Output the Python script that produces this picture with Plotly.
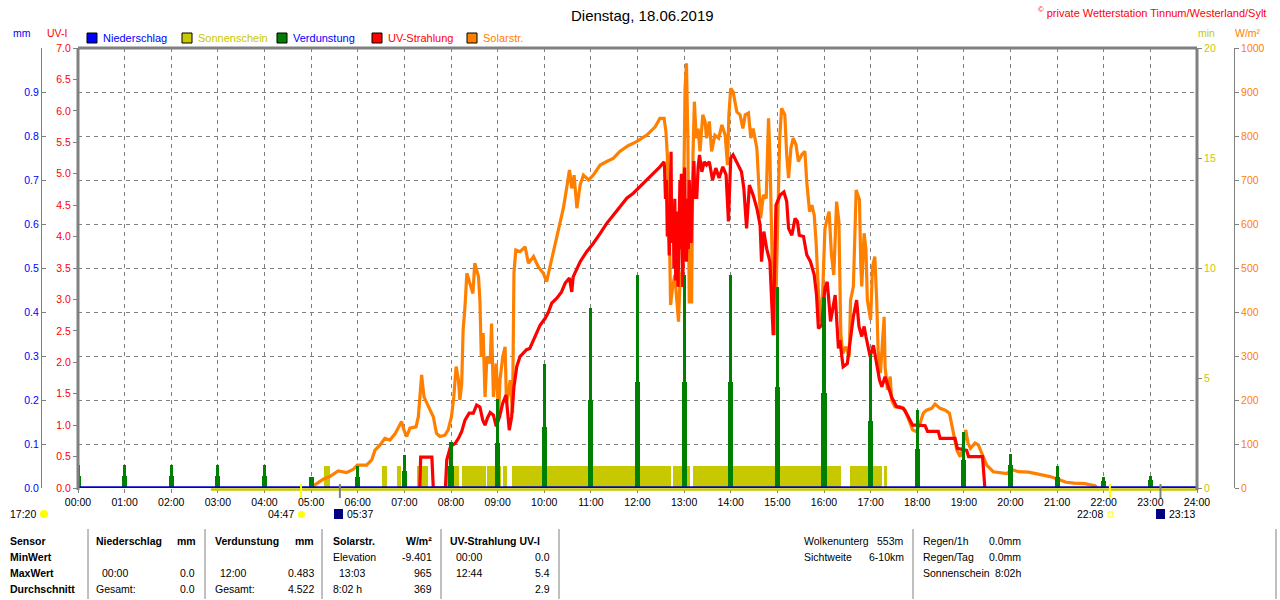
import plotly.graph_objects as go

# ---------------- data ----------------
hours = [0, 1, 2, 3, 4, 5, 6, 7, 8, 9, 10, 11, 12, 13, 14, 15, 16, 17, 18, 19, 20, 21, 22, 23, 24]
hour_labels = ["00:00", "01:00", "02:00", "03:00", "04:00", "05:00", "06:00", "07:00", "08:00",
               "09:00", "10:00", "11:00", "12:00", "13:00", "14:00", "15:00", "16:00", "17:00",
               "18:00", "19:00", "20:00", "21:00", "22:00", "23:00", "24:00"]

mm_ticks = [0.0, 0.1, 0.2, 0.3, 0.4, 0.5, 0.6, 0.7, 0.8, 0.9]
mm_labels = ["0.0", "0.1", "0.2", "0.3", "0.4", "0.5", "0.6", "0.7", "0.8", "0.9"]
min_ticks = [0, 5, 10, 15, 20]
solar_ticks = [0, 100, 200, 300, 400, 500, 600, 700, 800, 900, 1000]

# Verdunstung (mm) per hour: tall narrow part and lower wide part
verd_hours = [0, 1, 2, 3, 4, 5, 6, 7, 8, 9, 10, 11, 12, 13, 14, 15, 16, 17, 18, 19, 20, 21, 22, 23]
verd_hi = [0.052, 0.052, 0.052, 0.052, 0.052, 0.026, 0.051, 0.076, 0.104, 0.202, 0.281, 0.409,
           0.483, 0.484, 0.484, 0.457, 0.435, 0.306, 0.177, 0.128, 0.077, 0.051, 0.026, 0.027]
verd_lo = [0.027, 0.027, 0.027, 0.027, 0.027, 0.026, 0.026, 0.038, 0.050, 0.102, 0.139, 0.200,
           0.240, 0.240, 0.240, 0.230, 0.217, 0.153, 0.089, 0.064, 0.052, 0.026, 0.017, 0.018]

# Sonnenschein intervals (hours) with 1 min sunshine per minute
sun_start = [5.28, 6.52, 6.85, 7.26, 7.91, 8.06, 8.24, 8.78, 9.11, 9.31, 12.77, 13.18, 16.56, 17.29]
sun_end = [5.40, 6.63, 6.92, 7.51, 8.05, 8.18, 8.75, 9.08, 9.21, 12.72, 13.12, 16.36, 17.24, 17.35]
sun_minutes = [1, 1, 1, 1, 1, 1, 1, 1, 1, 1, 1, 1, 1, 1]
sun_zero_t = [2.85, 24.0]   # time span of the Sonnenschein base line

# Niederschlag (mm)
rain_t = [0.0, 24.0]
rain_v = [0.0, 0.0]

# UV-Strahlung (UV-I)
uv_t = [7.33, 7.35, 7.59, 7.62, 7.88,
        7.91, 7.99, 8.09, 8.16, 8.23, 8.30, 8.39, 8.48, 8.55, 8.62, 8.68, 8.73, 8.78, 8.84, 8.91,
        8.97, 9.04, 9.11, 9.18, 9.25, 9.30, 9.35, 9.41, 9.48, 9.62, 9.69, 9.77, 9.84, 9.91, 10.02,
        10.09, 10.16, 10.27, 10.37, 10.45, 10.54, 10.59, 10.62, 10.70, 10.77, 10.91, 11.05, 11.20,
        11.34, 11.48, 11.62, 11.77, 11.91, 12.05, 12.20, 12.34, 12.48, 12.57,
        12.58, 12.60, 12.62, 12.64, 12.66, 12.68, 12.70, 12.72, 12.73, 12.75, 12.77, 12.78, 12.80,
        12.82, 12.84, 12.86, 12.87, 12.89, 12.91, 12.92, 12.94, 12.96, 12.97, 12.99, 13.01, 13.03,
        13.05, 13.07, 13.09, 13.11, 13.13, 13.15, 13.17, 13.19, 13.21, 13.23, 13.25, 13.27, 13.30,
        13.33, 13.38, 13.43, 13.48, 13.54, 13.61, 13.68, 13.75, 13.83, 13.90, 13.95, 14.00, 14.05,
        14.16, 14.23, 14.28, 14.34, 14.40, 14.48, 14.56, 14.63, 14.66, 14.71, 14.77, 14.84, 14.91,
        14.97, 15.06, 15.14, 15.20, 15.24, 15.31, 15.38, 15.43, 15.47, 15.56, 15.63, 15.71, 15.79,
        15.84, 15.88, 15.95, 16.02, 16.07, 16.14, 16.24, 16.31, 16.34, 16.41, 16.50, 16.56, 16.63,
        16.70, 16.75, 16.81, 16.86, 16.90, 16.99, 17.06, 17.13, 17.19, 17.24, 17.31, 17.38, 17.45,
        17.56, 17.70, 17.81, 17.90, 18.02, 18.17, 18.22, 18.45, 18.49, 18.81, 18.86, 19.06, 19.10,
        19.40, 19.45]
uv_v = [0.0, 0.49, 0.49, 0.0, 0.0,
        0.45, 0.66, 0.71, 0.79, 0.90, 1.08, 1.19, 1.19, 1.32, 1.29, 1.08, 1.00, 1.11, 1.20, 1.16,
        0.98, 1.13, 1.35, 1.48, 0.92, 1.13, 1.61, 1.93, 2.09, 2.20, 2.22, 2.35, 2.49, 2.59, 2.70,
        2.80, 2.94, 3.02, 3.12, 3.26, 3.34, 3.12, 3.36, 3.49, 3.60, 3.76, 3.89, 4.05,
        4.21, 4.34, 4.48, 4.61, 4.69, 4.79, 4.90, 5.01, 5.11, 5.19,
        5.10, 4.60, 4.90, 4.00, 4.40, 3.70, 5.10, 5.35, 4.20, 3.90, 4.50, 3.50, 4.60,
        3.30, 3.60, 4.40, 3.20, 4.30, 4.90, 3.80, 5.00, 3.60, 3.20, 4.20, 5.10, 4.00,
        3.60, 4.60, 3.80, 4.90, 4.20, 3.90, 4.50, 5.00, 5.20, 4.60, 4.90, 4.60, 5.10,
        5.30, 5.03, 5.19, 5.14, 5.19, 4.90, 5.09, 4.93, 5.11, 4.98, 4.24, 5.25, 5.30,
        5.14, 5.03, 4.77, 4.13, 4.82, 4.66, 4.45, 4.18, 3.60, 4.08, 3.81, 3.60, 2.43,
        4.50, 4.66, 4.71, 4.56, 4.13, 4.02, 4.29, 4.24, 4.02, 4.00, 3.71, 3.60, 3.39,
        3.07, 2.54, 2.59, 3.18, 3.28, 2.65, 3.07, 2.22, 2.35, 1.93, 1.98, 2.35, 2.73,
        2.99, 2.57, 2.41, 2.57, 2.41, 2.09, 2.27, 1.98, 1.72, 1.61, 1.77, 1.61, 1.45,
        1.29, 1.27, 1.13, 1.00, 1.00, 0.99, 0.90, 0.90, 0.79, 0.79, 0.63, 0.60, 0.50,
        0.50, 0.0]

# Solarstrahlung (W/m2)
sol_t = [5.00, 5.05, 5.26, 5.40, 5.58, 5.76, 5.90, 5.99, 6.19, 6.30, 6.37, 6.48, 6.58, 6.69, 6.80,
         6.89, 6.94, 6.99, 7.05, 7.12, 7.25, 7.30, 7.34, 7.37, 7.42, 7.51, 7.62, 7.69, 7.76, 7.87,
         7.94, 8.01, 8.06, 8.11, 8.16, 8.19, 8.23, 8.26, 8.30, 8.34, 8.41, 8.47, 8.51, 8.59, 8.62,
         8.65, 8.69, 8.73, 8.77, 8.84, 8.87, 8.91, 8.97, 9.02, 9.05, 9.11, 9.16, 9.19, 9.27, 9.32,
         9.35, 9.39, 9.48, 9.59, 9.66, 9.77, 9.87, 9.98, 10.05, 10.12, 10.19, 10.30, 10.41, 10.48,
         10.54, 10.59, 10.64, 10.70, 10.77, 10.84, 10.95, 11.05, 11.20, 11.34, 11.48, 11.62, 11.80,
         11.98, 12.20, 12.38, 12.48, 12.57, 12.61, 12.64, 12.68, 12.71, 12.75, 12.80, 12.84, 12.88,
         12.91, 12.97, 13.02, 13.05, 13.08, 13.11, 13.16, 13.19, 13.22, 13.26, 13.30, 13.34, 13.40,
         13.45, 13.48, 13.54, 13.59, 13.66, 13.74, 13.81, 13.88, 13.93, 13.96, 14.00, 14.05, 14.13,
         14.20, 14.26, 14.31, 14.38, 14.43, 14.48, 14.56, 14.61, 14.64, 14.70, 14.76, 14.81, 14.84,
         14.88, 14.91, 14.95, 15.00, 15.05, 15.09, 15.16, 15.20, 15.24, 15.29, 15.34, 15.40, 15.45,
         15.52, 15.59, 15.63, 15.69, 15.74, 15.79, 15.83, 15.88, 15.91, 15.97, 16.02, 16.07, 16.11,
         16.16, 16.21, 16.27, 16.32, 16.36, 16.40, 16.47, 16.54, 16.57, 16.63, 16.69, 16.76, 16.79,
         16.81, 16.86, 16.90, 16.93, 16.97, 17.00, 17.04, 17.09, 17.13, 17.16, 17.21, 17.26, 17.29,
         17.31, 17.36, 17.42, 17.45, 17.52, 17.63, 17.74, 17.81, 17.90, 17.98, 18.06, 18.13, 18.20,
         18.31, 18.38, 18.49, 18.60, 18.69, 18.74, 18.78, 18.85, 18.92, 18.97, 19.04, 19.09, 19.14,
         19.24, 19.31, 19.39, 19.49, 19.63, 19.92, 20.06, 20.17, 20.39, 20.67, 20.85, 21.02, 21.19,
         21.36, 21.59, 21.81, 21.86]
sol_v = [0, 5, 20, 26, 39, 35, 42, 52, 52, 64, 86, 98, 113, 109, 123,
         143, 151, 132, 117, 136, 139, 162, 215, 257, 207, 185, 162, 124, 117, 120,
         132, 162, 207, 276, 245, 200, 238, 359, 412, 488, 465, 442, 511, 480, 427,
         298, 352, 207, 298, 283, 374, 207, 283, 162, 245, 298, 321, 192, 245, 170,
         488, 541, 537, 548, 511, 526, 503, 488, 469, 503, 530, 583, 636, 681,
         723, 681, 711, 636, 689, 711, 700, 711, 734, 742, 749, 765, 778,
         787, 802, 821, 840, 840, 810, 757, 605, 416, 454, 484, 439, 378,
         469, 499, 908, 965, 795, 423, 423, 757, 878, 795, 817, 765, 848,
         833, 795, 833, 765, 802, 795, 825, 802, 734, 848, 908, 901, 855,
         848, 817, 848, 852, 795, 817, 772, 681, 613, 666, 658, 840, 757,
         560, 393, 348, 605, 795, 863, 848, 757, 704, 772, 795, 780, 742,
         757, 765, 696, 628, 643, 620, 560, 454, 378, 439, 590, 613, 628,
         530, 484, 651, 605, 352, 306, 321, 298, 427, 458, 677, 655, 503,
         458, 579, 541, 427, 397, 382, 503, 526, 427, 314, 261, 352, 389,
         276, 223, 253, 200, 185, 185, 177, 155, 132, 128, 147, 170, 177,
         181, 191, 181, 177, 170, 143, 117, 86, 71, 86, 132, 102, 90,
         102, 98, 79, 52, 37, 33, 41, 37, 36, 31, 26, 20, 13,
         11, 10, 5, 0]

# Sun / moon events shown under the time axis
event_labels = ["17:20", "04:47", "05:37", "22:08", "23:13"]
event_marks_t = [4.783, 5.617, 22.133, 23.217]
event_marks_kind = ["sun", "moon", "sun", "moon"]

# ---------------- layout helpers ----------------
W, H = 1280, 600
PL, PR, PT, PB = 78, 1197, 48, 488


def fx(x):
    return x / W


def fy(y):
    return 1 - y / H


GRAY = "#808080"
BLUE = "#0000ff"
RED = "#ff0000"
OLIVE = "#c8c800"
GREEN = "#008000"
ORANGE = "#ff8000"
FONT = "Liberation Sans, Arial, sans-serif"
FS = 10.5

# axis ids chosen so that drawing order is: sunshine < solar < UV < mm (evaporation/rain)
fig = go.Figure()

# sunshine (min) -> y
fig.add_trace(go.Bar(
    x=[(s + e) / 2 for s, e in zip(sun_start, sun_end)],
    y=sun_minutes,
    width=[e - s for s, e in zip(sun_start, sun_end)],
    yaxis="y", marker=dict(color=OLIVE, line=dict(width=0)), name="Sonnenschein"))
# solar radiation -> y2
fig.add_trace(go.Scatter(x=sol_t, y=sol_v, yaxis="y2", mode="lines",
                         line=dict(color=ORANGE, width=3.2), name="Solarstr."))
# UV -> y3
fig.add_trace(go.Scatter(x=uv_t, y=uv_v, yaxis="y3", mode="lines",
                         line=dict(color=RED, width=3.2), name="UV-Strahlung"))
# evaporation bars and rain -> y4 (mm)
fig.add_trace(go.Bar(x=verd_hours, y=verd_lo, width=0.11, yaxis="y4",
                     marker=dict(color=GREEN, line=dict(width=0)), name="Verdunstung"))
fig.add_trace(go.Bar(x=verd_hours, y=verd_hi, width=0.065, yaxis="y4",
                     marker=dict(color=GREEN, line=dict(width=0)), name="Verdunstung"))
fig.add_trace(go.Scatter(x=rain_t, y=rain_v, yaxis="y4", mode="lines",
                         line=dict(color="#0000c8", width=3.5), name="Niederschlag"))

X0, X1 = fx(PL), fx(PR)
Y0, Y1 = fy(PB), fy(PT)

fig.update_layout(
    width=W, height=H, margin=dict(l=0, r=0, t=0, b=0, pad=0, autoexpand=False),
    paper_bgcolor="white", plot_bgcolor="white",
    showlegend=False, barmode="overlay", bargap=0,
    font=dict(family=FONT, size=FS, color="black"),
    xaxis=dict(domain=[X0, X1], range=[0, 24], tickvals=hours, ticktext=hour_labels,
               automargin=False,
               ticks="outside", ticklen=4, tickcolor=GRAY, showgrid=True, gridcolor=GRAY,
               griddash="4px,4px", gridwidth=1, zeroline=False, showline=False,
               tickfont=dict(size=FS, color="black", family=FONT)),
    # Sonnenschein (min), right edge of plot
    yaxis=dict(domain=[Y0, Y1], range=[0, 20], tickvals=min_ticks, anchor="x", side="right",
               automargin=False,
               ticks="outside", ticklen=4, tickcolor=GRAY, showline=False, showgrid=False,
               zeroline=False, tickfont=dict(color=OLIVE, size=FS)),
    # Solarstr. (W/m2), outer right axis, provides grid
    yaxis2=dict(range=[0, 1000], tickvals=solar_ticks, overlaying="y", anchor="free",
                automargin=False,
                position=fx(1234), side="right", ticks="outside", ticklen=4, tickcolor=GRAY,
                showline=True, linecolor=GRAY, linewidth=1, showgrid=True, gridcolor=GRAY,
                griddash="4px,4px", gridwidth=1, zeroline=False,
                tickfont=dict(color=ORANGE, size=FS)),
    # UV-I, left edge of plot
    yaxis3=dict(range=[0, 7], dtick=0.5, tickformat=".1f", overlaying="y", anchor="x",
                automargin=False,
                side="left", ticks="outside", ticklen=4, tickcolor=GRAY, showline=False,
                showgrid=False, zeroline=False, tickfont=dict(color=RED, size=FS)),
    # mm, outer left axis
    yaxis4=dict(range=[0, 1], tickvals=mm_ticks, ticktext=mm_labels, overlaying="y",
                automargin=False,
                anchor="free", position=fx(41), side="left", ticks="inside", ticklen=4,
                tickcolor=GRAY, showline=True, linecolor=GRAY, linewidth=1,
                showgrid=False, zeroline=False, tickfont=dict(color=BLUE, size=FS)),
)

shapes = []
# Sonnenschein base line just below the plot floor
shapes.append(dict(type="line", xref="x", yref="paper", x0=sun_zero_t[0], x1=sun_zero_t[1],
                   y0=fy(PB + 1.5), y1=fy(PB + 1.5), line=dict(color=OLIVE, width=2.5),
                   layer="above"))
# plot border (left, top, right)
for (xa, ya, xb, yb) in [(PL, PT, PL, PB + 2), (PL, PT, PR, PT), (PR, PT, PR, PB + 2)]:
    shapes.append(dict(type="line", xref="paper", yref="paper", x0=fx(xa), y0=fy(ya),
                       x1=fx(xb), y1=fy(yb), line=dict(color=GRAY, width=3), layer="above"))

# event marks on time axis
for t, kind in zip(event_marks_t, event_marks_kind):
    shapes.append(dict(type="line", xref="x", yref="paper", x0=t, x1=t, y0=fy(484), y1=fy(498),
                       line=dict(color="#ffff00" if kind == "sun" else GRAY, width=2),
                       layer="above"))

annotations = []


def text(x, y, s, color="black", size=FS, anchor="left", bold=False):
    annotations.append(dict(xref="paper", yref="paper", x=fx(x), y=fy(y),
                            text=("<b>%s</b>" % s) if bold else s, showarrow=False,
                            xanchor=anchor, yanchor="middle",
                            font=dict(color=color, size=size, family=FONT)))


# title & copyright
text(642, 15, "Dienstag, 18.06.2019", size=15, anchor="center")
text(1268, 12, "<sup>©</sup> private Wetterstation Tinnum/Westerland/Sylt", color=RED,
     size=11, anchor="right")

# axis headers
text(22, 33, "mm", color=BLUE, anchor="center")
text(57, 33, "UV-I", color=RED, anchor="center")
text(1206, 33, "min", color=OLIVE, anchor="center")
text(1248, 33, "W/m²", color=ORANGE, anchor="center")

# legend
legend_items = [("Niederschlag", BLUE, BLUE, 87), ("Sonnenschein", OLIVE, OLIVE, 182),
                ("Verdunstung", GREEN, BLUE, 277), ("UV-Strahlung", RED, RED, 372),
                ("Solarstr.", ORANGE, ORANGE, 467)]
for name, sq, tc, x in legend_items:
    shapes.append(dict(type="rect", xref="paper", yref="paper", x0=fx(x), x1=fx(x + 10),
                       y0=fy(43), y1=fy(33), fillcolor=sq, line=dict(color="black", width=1)))
    text(x + 14, 38, name, color=tc, size=11)

# event labels below axis
text(8, 514, event_labels[0])
shapes.append(dict(type="circle", xref="paper", yref="paper", x0=fx(40), x1=fx(48),
                   y0=fy(518), y1=fy(510), fillcolor="#ffff00", line=dict(width=0)))
text(296, 514, event_labels[1], anchor="right")
shapes.append(dict(type="circle", xref="paper", yref="paper", x0=fx(298), x1=fx(305),
                   y0=fy(518), y1=fy(511), fillcolor="#ffff00", line=dict(width=0)))
shapes.append(dict(type="rect", xref="paper", yref="paper", x0=fx(334), x1=fx(343),
                   y0=fy(519), y1=fy(509), fillcolor="#000080", line=dict(width=0)))
text(345, 514, event_labels[2])
text(1105, 514, event_labels[3], anchor="right")
shapes.append(dict(type="rect", xref="paper", yref="paper", x0=fx(1108), x1=fx(1113),
                   y0=fy(517), y1=fy(512), fillcolor="white", line=dict(color="#ffff00", width=1)))
shapes.append(dict(type="rect", xref="paper", yref="paper", x0=fx(1156), x1=fx(1165),
                   y0=fy(519), y1=fy(509), fillcolor="#000080", line=dict(width=0)))
text(1167, 514, event_labels[4])

# table
rows = [541, 557, 573, 589]
text(8, rows[0], "Sensor", bold=True)
text(8, rows[1], "MinWert", bold=True)
text(8, rows[2], "MaxWert", bold=True)
text(8, rows[3], "Durchschnitt", bold=True)

text(94, rows[0], "Niederschlag", bold=True)
text(198, rows[0], "mm", bold=True, anchor="right")
text(213, rows[0], "Verdunstung", bold=True)
text(316, rows[0], "mm", bold=True, anchor="right")
text(331, rows[0], "Solarstr.", bold=True)
text(434, rows[0], "W/m²", bold=True, anchor="right")
text(448, rows[0], "UV-Strahlung UV-I", bold=True)

text(331, rows[1], "Elevation")
text(434, rows[1], "-9.401", anchor="right")
text(454, rows[1], "00:00")
text(552, rows[1], "0.0", anchor="right")

text(100, rows[2], "00:00")
text(197, rows[2], "0.0", anchor="right")
text(218, rows[2], "12:00")
text(316, rows[2], "0.483", anchor="right")
text(337, rows[2], "13:03")
text(434, rows[2], "965", anchor="right")
text(454, rows[2], "12:44")
text(552, rows[2], "5.4", anchor="right")

text(94, rows[3], "Gesamt:")
text(197, rows[3], "0.0", anchor="right")
text(213, rows[3], "Gesamt:")
text(316, rows[3], "4.522", anchor="right")
text(331, rows[3], "8:02 h")
text(434, rows[3], "369", anchor="right")
text(552, rows[3], "2.9", anchor="right")

for xs in [88, 205, 322, 441, 559, 913, 1276]:
    shapes.append(dict(type="line", xref="paper", yref="paper", x0=fx(xs), x1=fx(xs),
                       y0=fy(529), y1=fy(599), line=dict(color=GRAY, width=1)))

text(802, rows[0], "Wolkenunterg")
text(906, rows[0], "553m", anchor="right")
text(802, rows[1], "Sichtweite")
text(906, rows[1], "6-10km", anchor="right")
text(921, rows[0], "Regen/1h")
text(1023, rows[0], "0.0mm", anchor="right")
text(921, rows[1], "Regen/Tag")
text(1023, rows[1], "0.0mm", anchor="right")
text(921, rows[2], "Sonnenschein")
text(1023, rows[2], "8:02h", anchor="right")

fig.update_layout(shapes=shapes, annotations=annotations)
fig.write_html("out.html", config={"displayModeBar": False},
               post_script="document.body.style.margin='0px';document.body.style.padding='0px';")
